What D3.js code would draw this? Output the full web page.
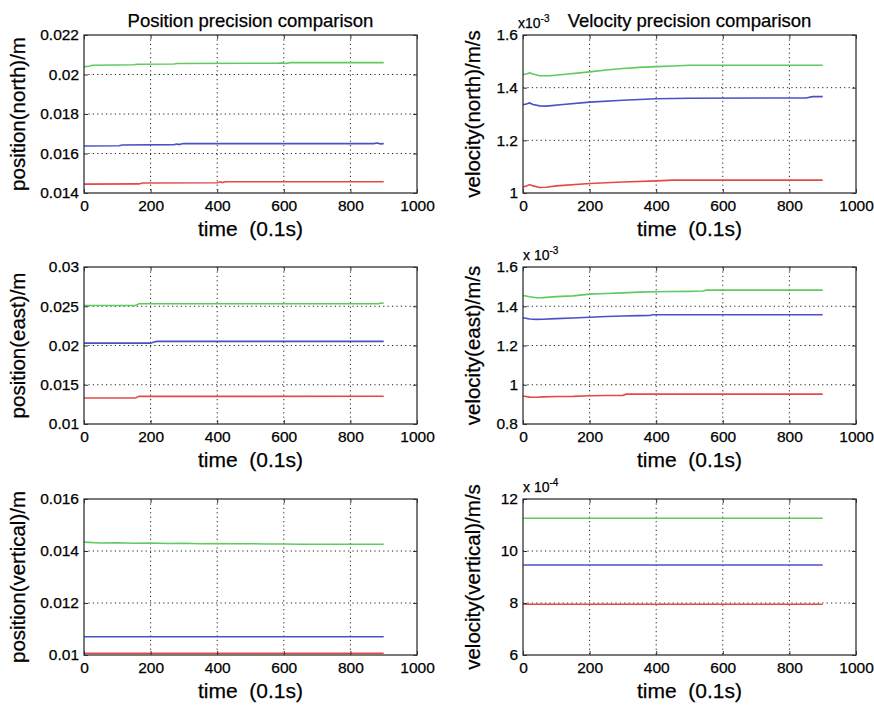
<!DOCTYPE html>
<html><head><meta charset="utf-8">
<script src="https://cdn.jsdelivr.net/npm/d3@7"></script>
<style>
body{margin:0;background:#fff}
svg text{font-family:"Liberation Sans",Arial,Helvetica,sans-serif;fill:#000;stroke:#000;stroke-width:0.25px}
</style>
</head><body>
<svg id="c" width="874" height="706"></svg>
<script>
// ---------------- data ----------------
const timeTicks = [0, 200, 400, 600, 800, 1000];
const titles = ["Position precision comparison", "Velocity precision comparison"];
const yLabels = ["position(north)/m", "velocity(north)/m/s", "position(east)/m", "velocity(east)/m/s", "position(vertical)/m", "velocity(vertical)/m/s"];
const exponentLabels = [null, ["x10", "-3"], null, ["x 10", "-3"], null, ["x 10", "-4"]];

const posNorthTicks = [0.014, 0.016, 0.018, 0.02, 0.022];
const velNorthTicks = [1, 1.2, 1.4, 1.6];
const posEastTicks = [0.01, 0.015, 0.02, 0.025, 0.03];
const velEastTicks = [0.8, 1, 1.2, 1.4, 1.6];
const posVertTicks = [0.01, 0.012, 0.014, 0.016];
const velVertTicks = [6, 8, 10, 12];

// position north
const pnGreenT = [0, 15, 25, 150, 160, 270, 280, 580, 595, 605, 620, 900];
const pnGreenV = [0.0204, 0.02042, 0.02047, 0.02049, 0.02052, 0.02053, 0.02056, 0.02057, 0.02059, 0.02056, 0.0206, 0.0206];
const pnBlueT = [0, 105, 115, 270, 280, 285, 295, 300, 870, 880, 890, 900];
const pnBlueV = [0.01638, 0.01639, 0.01643, 0.01645, 0.01648, 0.01645, 0.01649, 0.0165, 0.0165, 0.01653, 0.01649, 0.0165];
const pnRedT = [0, 165, 175, 400, 410, 415, 425, 900];
const pnRedV = [0.01445, 0.01446, 0.01451, 0.01452, 0.01457, 0.01453, 0.01457, 0.01457];

// velocity north (x1e-3)
const vnGreenT = [0, 10, 20, 30, 50, 80, 120, 200, 250, 300, 350, 400, 450, 500, 900];
const vnGreenV = [1.450, 1.452, 1.456, 1.452, 1.445, 1.445, 1.450, 1.460, 1.467, 1.473, 1.477, 1.480, 1.482, 1.485, 1.485];
const vnBlueT = [0, 10, 20, 30, 50, 70, 120, 200, 300, 400, 500, 850, 870, 900];
const vnBlueV = [1.335, 1.338, 1.342, 1.336, 1.331, 1.330, 1.336, 1.345, 1.352, 1.358, 1.360, 1.361, 1.366, 1.366];
const vnRedT = [0, 10, 20, 30, 50, 70, 100, 200, 300, 400, 450, 900];
const vnRedV = [1.023, 1.027, 1.032, 1.027, 1.021, 1.022, 1.027, 1.036, 1.042, 1.046, 1.049, 1.049];

// position east
const peGreenT = [0, 155, 165, 885, 892, 900];
const peGreenV = [0.0251, 0.0251, 0.02531, 0.02534, 0.02542, 0.02538];
const peBlueT = [0, 200, 210, 220, 900];
const peBlueV = [0.0203, 0.0203, 0.02045, 0.02053, 0.02053];
const peRedT = [0, 155, 165, 900];
const peRedV = [0.01332, 0.01332, 0.01352, 0.01353];

// velocity east (x1e-3)
const veGreenT = [0, 20, 40, 60, 100, 150, 200, 250, 300, 350, 400, 450, 500, 540, 550, 900];
const veGreenV = [1.455, 1.448, 1.443, 1.444, 1.449, 1.453, 1.462, 1.465, 1.468, 1.472, 1.474, 1.475, 1.476, 1.478, 1.482, 1.482];
const veBlueT = [0, 20, 40, 60, 100, 150, 200, 250, 300, 350, 380, 390, 900];
const veBlueV = [1.341, 1.335, 1.333, 1.334, 1.337, 1.340, 1.344, 1.348, 1.350, 1.352, 1.353, 1.357, 1.357];
const veRedT = [0, 20, 40, 60, 100, 150, 200, 250, 300, 310, 900];
const veRedV = [0.943, 0.937, 0.936, 0.938, 0.940, 0.941, 0.944, 0.945, 0.946, 0.952, 0.952];

// position vertical
const pvGreenT = [0, 50, 100, 150, 200, 250, 300, 350, 400, 450, 500, 550, 600, 650, 700, 750, 800, 850, 900];
const pvGreenV = [0.01434, 0.01431, 0.01432, 0.0143, 0.01431, 0.01429, 0.0143, 0.01428, 0.01429, 0.01428, 0.01428, 0.01427, 0.01427, 0.01426, 0.01426, 0.01426, 0.01426, 0.01426, 0.01426];
const pvBlueT = [0, 900];
const pvBlueV = [0.0107, 0.0107];
const pvRedT = [0, 900];
const pvRedV = [0.01007, 0.01007];

// velocity vertical (x1e-4)
const vvGreenT = [0, 900];
const vvGreenV = [11.26, 11.26];
const vvBlueT = [0, 900];
const vvBlueV = [9.46, 9.46];
const vvRedT = [0, 900];
const vvRedV = [7.95, 7.95];

// ---------------- drawing ----------------
const COLORS = {green: "#5ecb5e", blue: "#4a50c6", red: "#e64848"};
const svg = d3.select("#c");
svg.append("rect").attr("width", 874).attr("height", 706).attr("fill", "#fff");

const colX = [84, 523], rowY = [35, 267, 499], PW = 333, PH = [158, 157, 156];
const fmt = d => String(+d.toFixed(5));

const panels = [
  {ticks: posNorthTicks, series: [[pnGreenT, pnGreenV, "green"], [pnBlueT, pnBlueV, "blue"], [pnRedT, pnRedV, "red"]]},
  {ticks: velNorthTicks, series: [[vnGreenT, vnGreenV, "green"], [vnBlueT, vnBlueV, "blue"], [vnRedT, vnRedV, "red"]]},
  {ticks: posEastTicks, series: [[peGreenT, peGreenV, "green"], [peBlueT, peBlueV, "blue"], [peRedT, peRedV, "red"]]},
  {ticks: velEastTicks, series: [[veGreenT, veGreenV, "green"], [veBlueT, veBlueV, "blue"], [veRedT, veRedV, "red"]]},
  {ticks: posVertTicks, series: [[pvGreenT, pvGreenV, "green"], [pvBlueT, pvBlueV, "blue"], [pvRedT, pvRedV, "red"]]},
  {ticks: velVertTicks, series: [[vvGreenT, vvGreenV, "green"], [vvBlueT, vvBlueV, "blue"], [vvRedT, vvRedV, "red"]]}
];

panels.forEach((p, i) => {
  const col = i % 2, row = Math.floor(i / 2);
  const px = colX[col], py = rowY[row], w = PW, h = PH[row];
  const g = svg.append("g").attr("transform", `translate(${px},${py})`);
  const x = d3.scaleLinear().domain([0, 1000]).range([0, w]);
  const y = d3.scaleLinear().domain(d3.extent(p.ticks)).range([h, 0]);

  // grid
  g.append("g").selectAll("line").data(timeTicks.slice(1, -1)).join("line")
    .attr("x1", d => x(d)).attr("x2", d => x(d)).attr("y1", 0).attr("y2", h)
    .attr("stroke", "#222").attr("stroke-width", 1).attr("stroke-dasharray", "1.2,3.2");
  g.append("g").selectAll("line").data(p.ticks.slice(1, -1)).join("line")
    .attr("y1", d => y(d)).attr("y2", d => y(d)).attr("x1", 0).attr("x2", w)
    .attr("stroke", "#222").attr("stroke-width", 1).attr("stroke-dasharray", "1.2,3.2");

  // series
  const line = d3.line().x(d => x(d[0])).y(d => y(d[1]));
  p.series.forEach(([t, v, c]) => {
    g.append("path").datum(d3.zip(t, v)).attr("d", line)
      .attr("fill", "none").attr("stroke", COLORS[c]).attr("stroke-width", 1.6);
  });

  // axes
  const styleAxis = sel => {
    sel.select(".domain").remove();
    sel.selectAll(".tick line").attr("stroke", "#333");
    sel.attr("font-family", null).attr("font-size", 15.5);
  };
  g.append("g").attr("transform", `translate(0,${h})`)
    .call(d3.axisBottom(x).tickValues(timeTicks).tickFormat(d => String(d)).tickSizeInner(-4).tickSizeOuter(0).tickPadding(7))
    .call(styleAxis);
  g.append("g")
    .call(d3.axisLeft(y).tickValues(p.ticks).tickFormat(fmt).tickSizeInner(-4).tickSizeOuter(0).tickPadding(5))
    .call(styleAxis);
  g.append("g")
    .call(d3.axisTop(x).tickValues(timeTicks).tickFormat("").tickSizeInner(-4).tickSizeOuter(0))
    .call(styleAxis);
  g.append("g").attr("transform", `translate(${w},0)`)
    .call(d3.axisRight(y).tickValues(p.ticks).tickFormat("").tickSizeInner(-4).tickSizeOuter(0))
    .call(styleAxis);

  g.append("rect").attr("width", w).attr("height", h)
    .attr("fill", "none").attr("stroke", "#333").attr("stroke-width", 1.3);

  // x label
  g.append("text").attr("x", w / 2).attr("y", h + 43).attr("text-anchor", "middle")
    .attr("font-size", 21).style("white-space", "pre").text("time  (0.1s)");
  // y label
  const ylx = col === 0 ? -59 : -43;
  g.append("text").attr("transform", `translate(${ylx},${h / 2}) rotate(-90)`)
    .attr("text-anchor", "middle").attr("font-size", 20.5).text(yLabels[i]);

  // title
  if (row === 0) {
    g.append("text").attr("x", w / 2).attr("y", -8).attr("text-anchor", "middle")
      .attr("font-size", 18.5).text(titles[col]);
  }
  // exponent
  const ex = exponentLabels[i];
  if (ex) {
    const t = g.append("text").attr("x", i === 1 ? -5 : 0).attr("y", -7).attr("font-size", 14)
      .style("white-space", "pre");
    t.append("tspan").text(ex[0]);
    t.append("tspan").attr("dy", -6).attr("font-size", 10).text(ex[1]);
  }
});
</script>
</body></html>
